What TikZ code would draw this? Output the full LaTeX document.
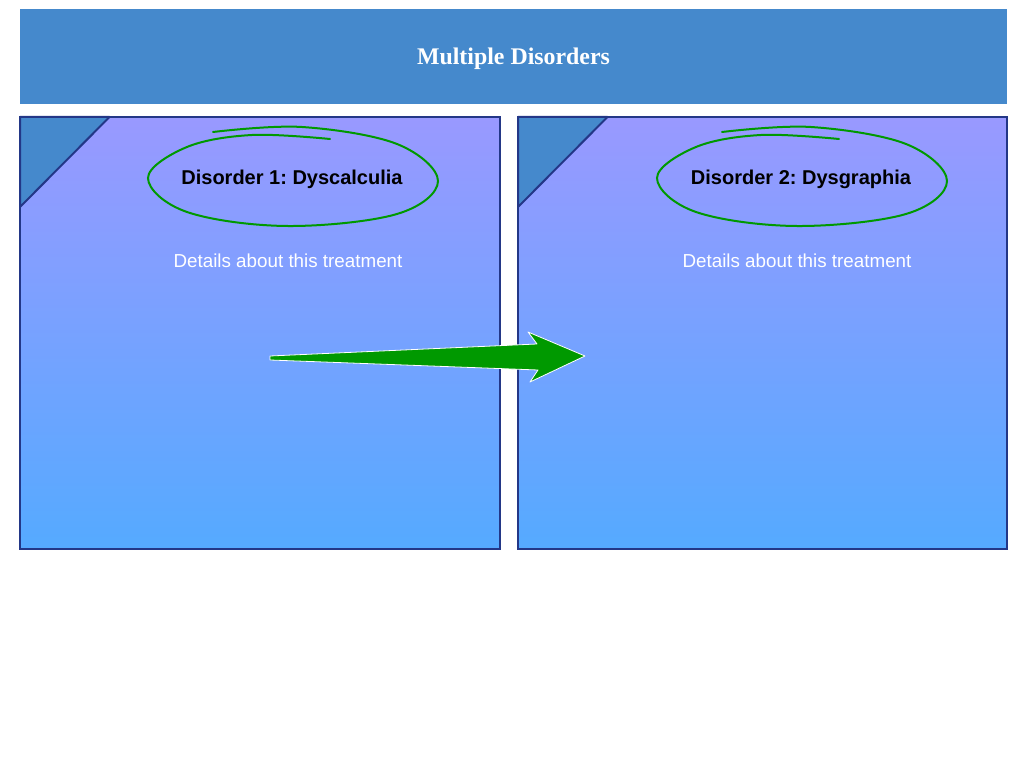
\documentclass[tikz,border=0pt]{standalone}
\usepackage{fontspec}
\setmainfont{Liberation Serif}
\setsansfont{Liberation Sans}
\usetikzlibrary{calc}
\definecolor{hdr}{RGB}{69,137,204}
\definecolor{edge}{RGB}{35,55,135}
\definecolor{topc}{RGB}{153,153,255}
\definecolor{botc}{RGB}{85,170,255}
\definecolor{grn}{RGB}{0,153,0}
\frenchspacing

\begin{document}
\begin{tikzpicture}[x=0.75pt,y=0.75pt]
			\useasboundingbox (0,0) rectangle (1024,768);
			% Header bar
			\fill[hdr] (20,664) rectangle (1007,759);
			\node[white,font=\bfseries\fontsize{17.9}{21}\selectfont] (title) at (513.5,709) {Multiple Disorders};

			% Panels
			\foreach \xl/\xr/\cx/\lbl/\nm in {20/500/292/{Disorder 1: Dyscalculia}/one, 518/1007/801/{Disorder 2: Dysgraphia}/two}{
				\shade[top color=topc,bottom color=botc] (\xl,219) rectangle (\xr,651);
				\draw[edge,line width=1.5] (\xl,219) rectangle (\xr,651);
				\filldraw[fill=hdr,draw=edge,line width=1.5,line join=round] (\xl,651) -- (\xl+89.5,651) -- (\xl,561) -- cycle;
				% hand drawn ring
				\draw[grn,line width=1.5,line cap=round] plot[smooth,tension=0.6] coordinates {
					(\cx+38,629) (\cx-40,633) (\cx-105,621) (\cx-144,590) (\cx-105,556) (\cx-5,542)
					(\cx+105,554) (\cx+146,587) (\cx+105,624) (\cx+10,641) (\cx-79,636)};
				\node[font=\sffamily\bfseries\fontsize{15}{18}\selectfont] (\nm) at (\cx,588.5) {\lbl};
				\node[white,font=\sffamily\fontsize{14.1}{17}\selectfont] (\nm-txt) at (\cx-4,507) {Details about this treatment};
			}

			% Arrow
			\coordinate (tail) at (270,410);
			\coordinate (tip) at (585,412);
			\filldraw[fill=grn,draw=white,line width=0.6,line join=round]
			($(tail)+(0,2)$) -- (537,424) -- (528,436) -- (tip)
			-- (530,386) -- (538,398) -- ($(tail)+(0,-2)$) -- cycle;
\end{tikzpicture}
\end{document}
